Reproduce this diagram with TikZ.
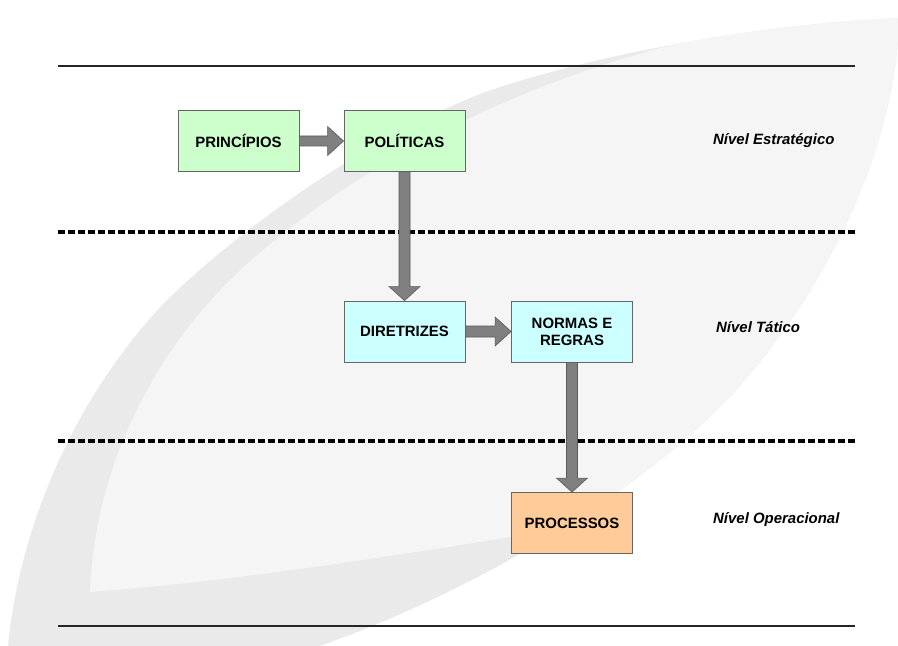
\documentclass[tikz,border=0pt]{standalone}
\usepackage{fontspec}
\setmainfont{Liberation Sans}
\usetikzlibrary{calc}
\definecolor{bandgray}{RGB}{234,234,234}
\definecolor{innergray}{RGB}{245,245,245}
\definecolor{boxgreen}{RGB}{204,255,204}
\definecolor{boxcyan}{RGB}{204,255,255}
\definecolor{boxorange}{RGB}{255,204,153}
\definecolor{arrowgray}{RGB}{128,128,128}
\begin{document}
\begin{tikzpicture}[x=1bp,y=-1bp,
  stepbox/.style={draw=black!60, line width=0.8bp, minimum width=121bp,
    minimum height=61bp, inner sep=0pt, align=center,
    font=\fontsize{15}{17}\selectfont\bfseries, text=black},
  levellabel/.style={anchor=west, inner sep=0pt,
    font=\fontsize{15}{17}\selectfont\bfseries\itshape},
  blockarrow/.style={fill=arrowgray, draw=black!65, line width=0.6bp, line join=miter},
  rule/.style={line width=1.2bp, draw=black!85},
  divider/.style={line width=3.2bp, dash pattern=on 6.5bp off 3.5bp}
]
\useasboundingbox (0,0) rectangle (898,646);

% background swoosh: outer leaf with a lighter inner face
\begin{scope}
  \clip (8,646) .. controls (20,520) and (80,390) .. (167,300)
    .. controls (260,210) and (400,120) .. (500,87)
    .. controls (600,55) and (750,25) .. (898,18) -- (898,40)
    .. controls (890,150) and (830,290) .. (727,400)
    .. controls (620,510) and (450,600) .. (320,646) -- cycle;
  \fill[bandgray] (0,0) rectangle (898,646);
  \fill[innergray] (90,592) .. controls (95,470) and (150,360) .. (230,280)
    .. controls (350,165) and (520,80) .. (700,38)
    .. controls (800,20) .. (900,10) -- (900,470)
    .. controls (450,550) and (250,580) .. (90,592) -- cycle;
\end{scope}

% rules and level dividers
\draw[rule] (58,66) -- (855,66);
\draw[rule] (58,626) -- (855,626);
\draw[divider] (58,232) -- (855,232);
\draw[divider] (58,441) -- (855,441);

% boxes
\node[stepbox, fill=boxgreen] (princ) at (238.5,141) {PRINCÍPIOS};
\node[stepbox, fill=boxgreen] (polit) at (404.5,141) {POLÍTICAS};
\node[stepbox, fill=boxcyan] (diret) at (404.5,331.5) {DIRETRIZES};
\node[stepbox, fill=boxcyan] (normas) at (572,331.5) {NORMAS E\\REGRAS};
\node[stepbox, fill=boxorange] (proc) at (572,523) {PROCESSOS};

% block arrows
\draw[blockarrow] ($(princ.east)+(0,-5)$) -- ($(polit.west)+(-16,-5)$)
  -- ($(polit.west)+(-16,-14.5)$) -- (polit.west)
  -- ($(polit.west)+(-16,14.5)$) -- ($(polit.west)+(-16,5)$)
  -- ($(princ.east)+(0,5)$) -- cycle;
\draw[blockarrow] ($(diret.east)+(0,-5.5)$) -- ($(normas.west)+(-16,-5.5)$)
  -- ($(normas.west)+(-16,-14.5)$) -- (normas.west)
  -- ($(normas.west)+(-16,14.5)$) -- ($(normas.west)+(-16,5.5)$)
  -- ($(diret.east)+(0,5.5)$) -- cycle;
\draw[blockarrow] ($(polit.south)+(-5.5,0)$) -- ($(diret.north)+(-5.5,-14)$)
  -- ($(diret.north)+(-15.5,-14)$) -- (diret.north)
  -- ($(diret.north)+(15.5,-14)$) -- ($(diret.north)+(5.5,-14)$)
  -- ($(polit.south)+(5.5,0)$) -- cycle;
\draw[blockarrow] ($(normas.south)+(-5.5,0)$) -- ($(proc.north)+(-5.5,-14)$)
  -- ($(proc.north)+(-15.5,-14)$) -- (proc.north)
  -- ($(proc.north)+(15.5,-14)$) -- ($(proc.north)+(5.5,-14)$)
  -- ($(normas.south)+(5.5,0)$) -- cycle;

% level labels
\node[levellabel] (lvlstrat) at (713,141) {Nível Estratégico};
\node[levellabel] (lvltat) at (716,327) {Nível Tático};
\node[levellabel] (lvlop) at (713,520) {Nível Operacional};
\end{tikzpicture}
\end{document}
